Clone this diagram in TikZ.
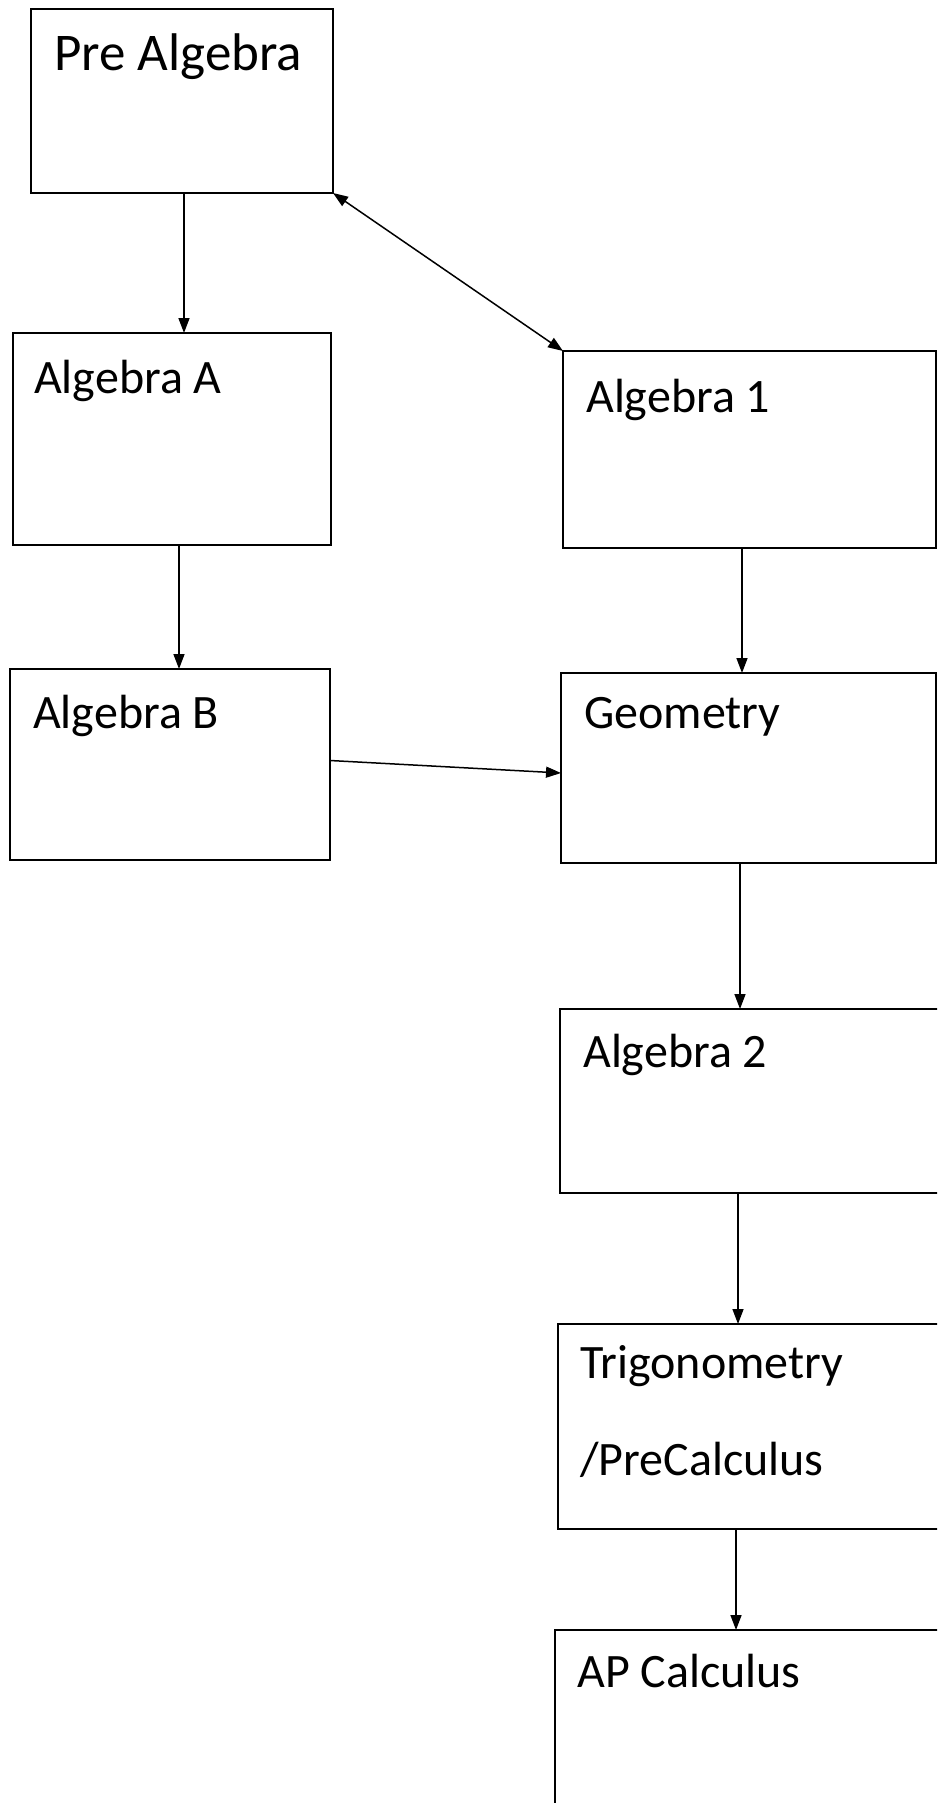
\documentclass[tikz,border=0pt]{standalone}
\usepackage{fontspec}
\setmainfont{Carlito}
\usetikzlibrary{arrows.meta,calc}
\begin{document}
\begin{tikzpicture}[x=1pt,y=-1pt,
  box/.style={draw=black,line width=1.7pt,rectangle,inner sep=0pt,outer sep=0pt},
  lbl/.style={anchor=base west,inner sep=0pt,font=\fontsize{48}{97}\selectfont,align=left},
  arr/.style={line width=1.5pt,-{Triangle[length=15pt,width=11pt]}},
  darr/.style={line width=1.5pt,{Triangle[length=15pt,width=11pt]}-{Triangle[length=15pt,width=11pt]}}]
\useasboundingbox (0,0) rectangle (937,1803);
\fill[white] (0,0) rectangle (937,1803);
\clip (0,0) rectangle (937,1803);
% boxes
\node[box,minimum width=302pt,minimum height=184pt] (pre) at (182,101) {};
\node[box,minimum width=318pt,minimum height=212pt] (algA) at (172,439) {};
\node[box,minimum width=373pt,minimum height=197pt] (algI) at (749.5,449.5) {};
\node[box,minimum width=320pt,minimum height=191pt] (algB) at (170,764.5) {};
\node[box,minimum width=375pt,minimum height=190pt] (geo) at (748.5,768) {};
\node[box,minimum width=382pt,minimum height=184pt] (algII) at (751,1101) {};
\node[box,minimum width=384pt,minimum height=205pt] (trig) at (750,1426.5) {};
\node[box,minimum width=390pt,minimum height=190pt] (ap) at (750,1725) {};
% labels
\node[lbl,font=\fontsize{53}{60}\selectfont] (preT) at ([xshift=23pt,yshift=-62pt]pre.north west) {Pre Algebra};
\node[lbl] (algAT) at ([xshift=21pt,yshift=-60pt]algA.north west) {Algebra A};
\node[lbl] (algIT) at ([xshift=23pt,yshift=-61pt]algI.north west) {Algebra 1};
\node[lbl] (algBT) at ([xshift=23pt,yshift=-59pt]algB.north west) {Algebra B};
\node[lbl] (geoT) at ([xshift=23pt,yshift=-55pt]geo.north west) {Geometry};
\node[lbl] (algIIT) at ([xshift=23pt,yshift=-58pt]algII.north west) {Algebra 2};
\node[lbl] (trigT) at ([xshift=22pt,yshift=-151pt]trig.north west) {Trigonometry\\/PreCalculus};
\node[lbl] (apT) at ([xshift=22pt,yshift=-57pt]ap.north west) {AP Calculus};
% connectors
\draw[arr] ([xshift=2pt]pre.south) -- ([xshift=2pt]pre.south |- algA.north);
\draw[darr] (pre.south east) -- (algI.north west);
\draw[arr] ([xshift=7pt]algA.south) -- ([xshift=7pt]algA.south |- algB.north);
\draw[arr] ([xshift=-7.5pt]algI.south) -- ([xshift=-7.5pt]algI.south |- geo.north);
\draw[arr] ([yshift=4pt]algB.east) -- ([yshift=-5pt]geo.west);
\draw[arr] ([xshift=-8.5pt]geo.south) -- ([xshift=-8.5pt]geo.south |- algII.north);
\draw[arr] ([xshift=-13pt]algII.south) -- ([xshift=-13pt]algII.south |- trig.north);
\draw[arr] ([xshift=-14pt]trig.south) -- ([xshift=-14pt]trig.south |- ap.north);
\end{tikzpicture}
\end{document}
